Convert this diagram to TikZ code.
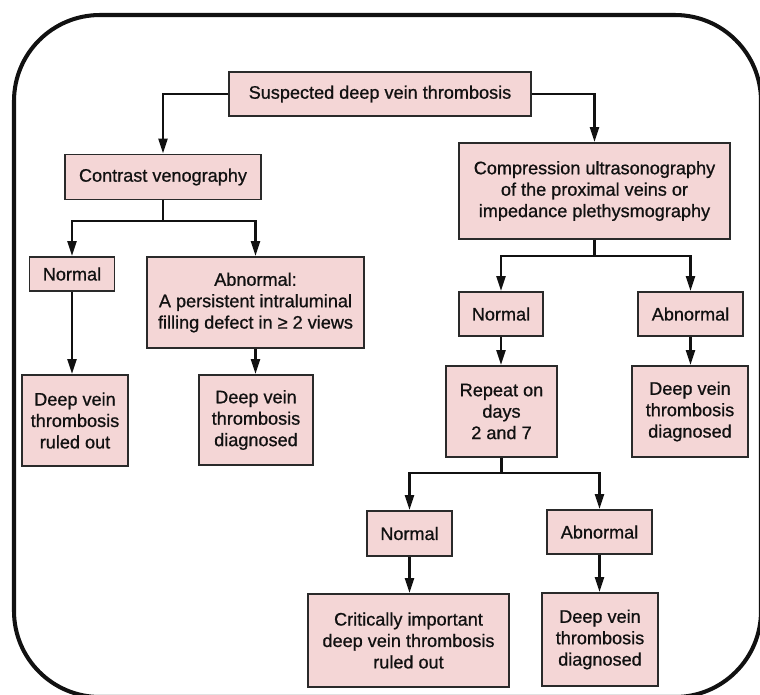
\documentclass[tikz,border=0pt]{standalone}
\usepackage{fontspec}
\setmainfont{Liberation Sans}[FakeBold=0.8]
\usepackage{xcolor}
\usepackage{tikz}
\usetikzlibrary{arrows.meta}
\definecolor{ink}{HTML}{111111}
\definecolor{edge}{HTML}{2A2A2A}
\definecolor{pink}{HTML}{F4D6D6}
\tikzset{
  frame/.style={draw=ink, line width=2.3pt, rounded corners=1.72cm},
  box/.style={draw=edge, fill=pink, line width=1pt, inner sep=0pt, align=center,
    text=ink, font=\fontsize{10.3}{12.2}\selectfont},
  link/.style={draw=ink, line width=1.45pt},
  arr/.style={link, -{Triangle[length=8.5pt,width=5pt]}},
}
\begin{document}
\begin{tikzpicture}[x=0.02cm,y=-0.02cm]
  \useasboundingbox (0,0) rectangle (760,694);
  \draw[frame] (14,15) rectangle (761,697);
  \node[box,minimum width=6.04cm,minimum height=0.88cm] (top) at (380,94) {Suspected deep vein thrombosis};
  \node[box,minimum width=3.92cm,minimum height=0.90cm] (veno) at (163,177) {Contrast venography};
  \node[box,minimum width=5.42cm,minimum height=1.92cm] (cus) at (594.5,191) {Compression ultrasonography\\of the proximal veins or\\impedance plethysmography};
  \node[box,minimum width=1.70cm,minimum height=0.68cm] (vnorm) at (72,274) {Normal};
  \node[box,minimum width=4.34cm,minimum height=1.82cm] (vabn) at (255.5,302.5) {Abnormal:\\A persistent intraluminal\\filling defect in ≥ 2 views};
  \node[box,minimum width=2.12cm,minimum height=1.82cm] (vout) at (75,420.5) {Deep vein\\thrombosis\\ruled out};
  \node[box,minimum width=2.28cm,minimum height=1.80cm] (vdiag) at (256,420) {Deep vein\\thrombosis\\diagnosed};
  \node[box,minimum width=1.68cm,minimum height=0.88cm] (cnorm) at (501,314) {Normal};
  \node[box,minimum width=2.10cm,minimum height=0.88cm] (cabn) at (690.5,314) {Abnormal};
  \node[box,minimum width=2.22cm,minimum height=1.82cm] (rep) at (501.5,411.5) {Repeat on\\days\\2 and 7};
  \node[box,minimum width=2.32cm,minimum height=1.82cm] (cdiag) at (690,411.5) {Deep vein\\thrombosis\\diagnosed};
  \node[box,minimum width=1.70cm,minimum height=0.90cm] (rnorm) at (409.5,533.5) {Normal};
  \node[box,minimum width=2.10cm,minimum height=0.88cm] (rabn) at (599.5,532) {Abnormal};
  \node[box,minimum width=4.02cm,minimum height=1.86cm] (rout) at (408.5,640.5) {Critically important\\deep vein thrombosis\\ruled out};
  \node[box,minimum width=2.32cm,minimum height=1.86cm] (rdiag) at (600,639.5) {Deep vein\\thrombosis\\diagnosed};
  \coordinate (vsplit) at (163,221);
  \coordinate (csplit) at (594.5,256);
  \coordinate (rsplit) at (501.5,473);
  \draw[arr] (top.west) -| (veno.north);
  \draw[arr] (top.east) -| (cus.north);
  \draw[link] (veno.south) -- (vsplit);
  \draw[link] (cus.south) -- (csplit);
  \draw[link] (rep.south) -- (rsplit);
  \foreach \s/\a/\b in {vsplit/vnorm/vabn,csplit/cnorm/cabn,rsplit/rnorm/rabn}{
    \draw[arr] (\s) -| (\a.north);
    \draw[arr] (\s) -| (\b.north);
  }
  \foreach \a/\b in {vnorm/vout,vabn/vdiag,cnorm/rep,cabn/cdiag,rnorm/rout,rabn/rdiag}
    \draw[arr] (\a.south) -- (\a.south |- \b.north);
\end{tikzpicture}
\end{document}
